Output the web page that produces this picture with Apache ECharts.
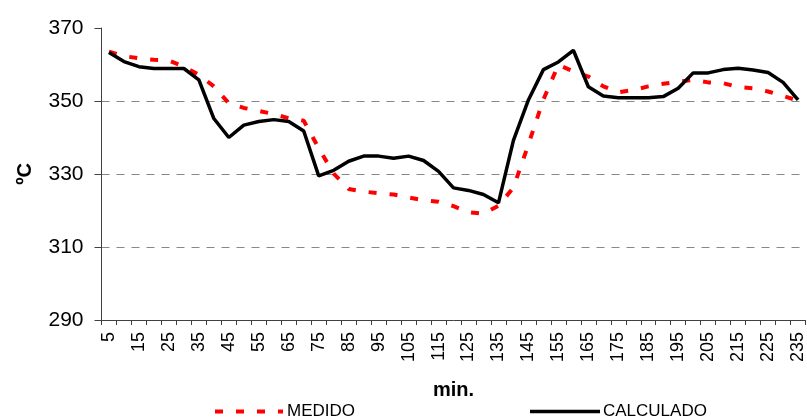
<!DOCTYPE html>
<html>
<head>
<meta charset="utf-8">
<script src="https://cdn.jsdelivr.net/npm/echarts@6/dist/echarts.min.js"></script>
<style>html,body{margin:0;padding:0;background:#fff}#c{width:807px;height:417px}</style>
</head>
<body>
<div id="c"></div>
<script>
var categories = ['5','10','15','20','25','30','35','40','45','50','55','60','65','70','75','80','85','90','95','100','105','110','115','120','125','130','135','140','145','150','155','160','165','170','175','180','185','190','195','200','205','210','215','220','225','230','235'];
var medido = [363.5,362.3,361.7,361.3,361.1,359.4,357.2,354.0,349.4,348.1,347.3,346.4,345.3,344.6,337.1,330.1,325.9,325.2,324.7,324.4,323.6,322.8,322.4,321.2,319.5,319.1,321.3,326.3,338.1,350.4,359.9,358.1,356.7,354.0,352.4,353.0,354.0,354.7,355.3,355.8,355.1,354.9,353.8,353.5,352.6,351.4,350.1];
var calculado = [363.3,360.8,359.4,358.9,358.9,358.9,355.8,345.2,340.0,343.4,344.4,344.9,344.4,341.8,329.5,331.0,333.5,334.9,334.9,334.3,334.9,333.7,330.7,326.2,325.5,324.4,322.1,339.2,350.3,358.6,360.7,363.9,353.9,351.4,350.9,350.9,350.9,351.2,353.5,357.7,357.7,358.6,359.0,358.5,357.8,355.1,350.3];
var yTicks = {min: 290, max: 370, interval: 20};

var font = "'Liberation Sans', Arial, sans-serif";
var chart = echarts.init(document.getElementById('c'), null, {renderer: 'canvas'});
chart.setOption({
  animation: false,
  backgroundColor: '#fff',
  grid: {left: 101.5, top: 28, width: 709, height: 292, containLabel: false},
  legend: [
    {data: [{name: 'MEDIDO', icon: 'path://M0,0h8v4h-8z M21,0h8v4h-8z M42,0h8v4h-8z M63,0h5v4h-5z'}],
     left: 215, top: 403, padding: 0, itemWidth: 68, itemHeight: 4, itemGap: 4,
     itemStyle: {color: '#ff0000', borderWidth: 0},
     textStyle: {fontFamily: font, fontSize: 17, color: '#000', padding: [0,0,0,-1]}},
    {data: [{name: 'CALCULADO', icon: 'rect'}],
     left: 530, top: 403, padding: 0, itemWidth: 70, itemHeight: 3.5,
     itemStyle: {color: '#000', borderWidth: 0},
     textStyle: {fontFamily: font, fontSize: 17, color: '#000', padding: [0,0,0,-2]}}
  ],
  xAxis: {
    type: 'category',
    data: categories,
    boundaryGap: true,
    name: 'min.',
    nameLocation: 'middle',
    nameGap: 60,
    nameTextStyle: {fontFamily: font, fontSize: 20, fontWeight: 'bold', color: '#000'},
    axisLine: {lineStyle: {color: '#404040', width: 1}},
    axisTick: {show: true, interval: 0, length: 5, alignWithLabel: false, lineStyle: {color: '#404040'}},
    axisLabel: {interval: 1, rotate: 90, margin: 12, fontFamily: font, fontSize: 18, color: '#000'},
    splitLine: {show: false}
  },
  yAxis: {
    type: 'value',
    min: yTicks.min, max: yTicks.max, interval: yTicks.interval,
    name: 'ºC',
    nameLocation: 'middle',
    nameGap: 66,
    nameRotate: 90,
    nameTextStyle: {fontFamily: font, fontSize: 20, fontWeight: 'bold', color: '#000'},
    axisLine: {show: true, lineStyle: {color: '#404040', width: 1}},
    axisTick: {show: true, length: 7, lineStyle: {color: '#404040'}},
    axisLabel: {margin: 18, fontFamily: font, fontSize: 21, color: '#000'},
    splitLine: {show: true, showMinLine: false, showMaxLine: false, lineStyle: {color: '#888', width: 1, type: [8,7]}}
  },
  series: [
    {name: 'MEDIDO', type: 'line', data: medido, symbol: 'none', z: 2,
     lineStyle: {color: '#ff0000', width: 4, type: [8,13], cap: 'butt'}, itemStyle: {color: '#ff0000'}},
    {name: 'CALCULADO', type: 'line', data: calculado, symbol: 'none', z: 3,
     lineStyle: {color: '#000', width: 3.5}, itemStyle: {color: '#000'}}
  ]
});
</script>
</body>
</html>
